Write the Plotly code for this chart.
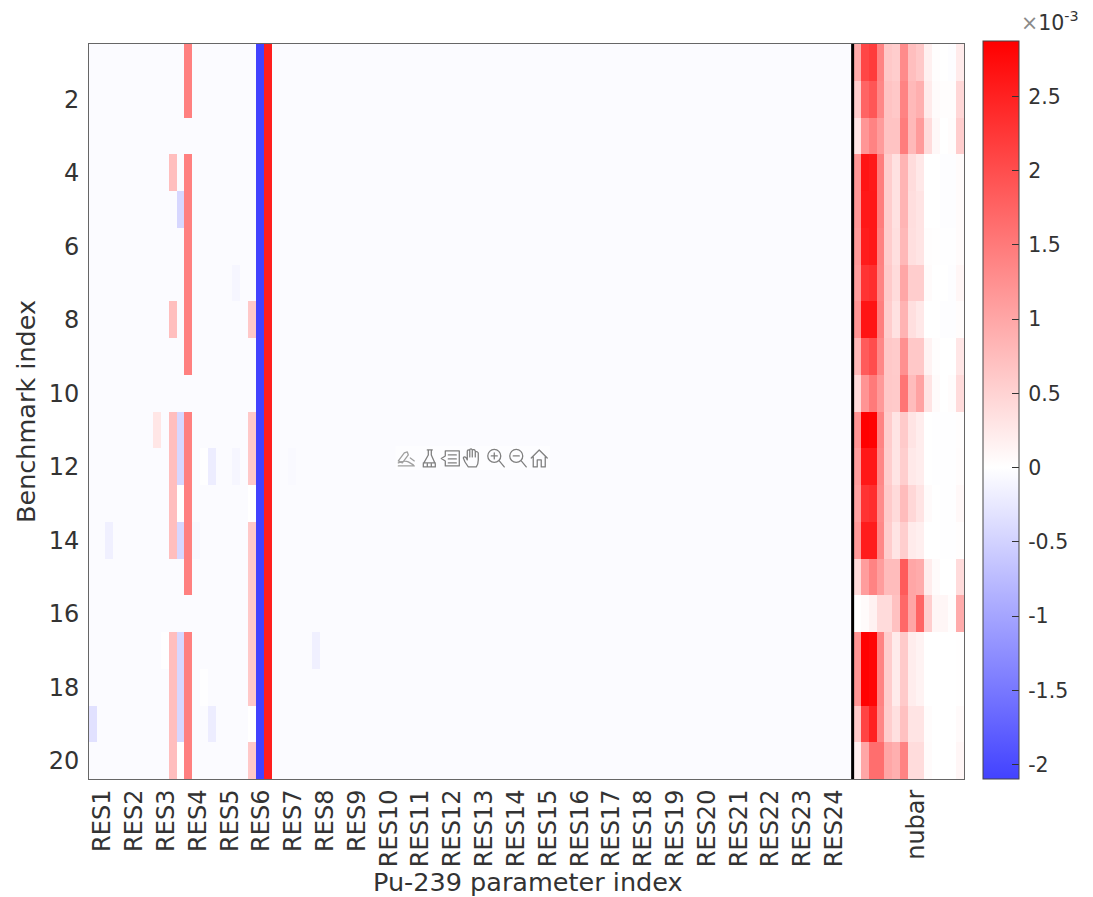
import base64
import plotly.graph_objects as go

# All values are in units of 1e-3
n_rows = 20
n_res = 96
background = -0.045

benchmarks = list(range(1, 21))
res_labels = ["RES%d" % i for i in range(1, 25)]
res_ticks = [2, 6, 10, 14, 18, 22, 26, 30, 34, 38, 42, 46, 50, 54, 58, 62, 66, 70, 74, 78, 82, 86, 90, 94]
nubar_tick = 104.3
y_ticks = [2, 4, 6, 8, 10, 12, 14, 16, 18, 20]
cbar_ticks = [-2, -1.5, -1, -0.5, 0, 0.5, 1, 1.5, 2, 2.5]
cbar_labels = ["-2", "-1.5", "-1", "-0.5", "0", "0.5", "1", "1.5", "2", "2.5"]

b = background
res_01 = [b, b, b, b, b, b, b, b, b, b, b, b, b, b, b, b, b, b, -0.33, b]
res_03 = [b, b, b, b, b, b, b, b, b, b, b, b, b, -0.17, b, b, b, b, b, b]
res_09 = [b, b, b, b, b, b, b, b, b, b, 0.28, b, b, b, b, b, b, b, b, b]
res_10 = [b, b, b, b, b, b, b, b, b, b, b, b, b, b, b, b, -0.015, b, b, b]
res_11 = [b, b, b, 0.73, b, b, b, 0.73, b, b, 0.73, 0.73, 0.73, 0.73, b, b, 0.73, 0.73, 0.73, 0.73]
res_12 = [b, b, b, b, -0.45, b, b, b, b, b, -0.45, -0.45, 0.0, -0.45, b, b, -0.45, -0.45, -0.45, 0.0]
res_13 = [1.43, 1.43, b, 1.43, 1.43, 1.43, 1.43, 1.43, 1.43, b, 1.43, 1.43, 1.43, 1.43, 1.43, b, 1.43, 1.43, 1.43, 1.43]
res_14 = [b, b, b, b, b, b, b, b, b, b, b, b, b, -0.08, b, b, b, b, b, b]
res_15 = [b, b, b, b, b, b, b, b, b, b, b, -0.015, b, b, b, b, b, -0.015, b, b]
res_16 = [b, b, b, b, b, b, b, b, b, b, b, -0.2, b, b, b, b, b, b, -0.2, b]
res_19 = [b, b, b, b, b, b, -0.1, b, b, b, b, -0.1, b, b, b, b, b, b, b, b]
res_21 = [b, b, b, b, b, b, b, 0.62, b, b, 0.62, 0.62, 0.0, 0.62, 0.62, 0.62, 0.62, 0.62, 0.0, 0.62]
res_22 = [-2.1] * 20
res_23 = [2.53] * 20
res_26 = [b, b, b, b, b, b, b, b, b, b, b, -0.07, b, b, b, b, b, b, b, b]
res_29 = [b, b, b, b, b, b, b, b, b, b, b, b, b, b, b, b, -0.17, b, b, b]

nubar_r01 = [0.95, 2.08, 2.2, 1.4, 0.62, 0.56, 1.3, 0.73, 0.62, 0.17, 0.02, 0.0, -0.02, 0.22]
nubar_r02 = [0.56, 1.74, 1.9, 1.35, 0.67, 0.62, 1.4, 0.79, 0.9, 0.22, 0.05, 0.02, 0.02, 0.45]
nubar_r03 = [0.28, 1.18, 1.4, 1.12, 0.67, 0.67, 1.46, 0.79, 1.12, 0.39, 0.08, 0.0, 0.03, 0.56]
nubar_r04 = [1.18, 2.64, 2.59, 1.46, 0.56, 0.34, 0.84, 0.39, 0.26, 0.0, 0.0, -0.02, -0.02, 0.05]
nubar_r05 = [1.18, 2.6, 2.6, 1.46, 0.56, 0.34, 0.84, 0.37, 0.3, 0.0, 0.0, -0.02, -0.02, 0.05]
nubar_r06 = [1.15, 2.55, 2.6, 1.42, 0.56, 0.36, 0.8, 0.36, 0.3, 0.02, 0.01, -0.01, -0.01, 0.05]
nubar_r07 = [1.1, 2.3, 2.35, 1.4, 0.6, 0.4, 1.0, 0.56, 0.56, 0.05, 0.0, 0.0, -0.02, 0.1]
nubar_r08 = [1.2, 2.65, 2.65, 1.45, 0.56, 0.34, 0.85, 0.36, 0.26, 0.0, 0.0, -0.02, -0.02, 0.03]
nubar_r09 = [0.8, 1.85, 2.0, 1.35, 0.62, 0.58, 1.25, 0.62, 0.62, 0.14, 0.02, 0.0, 0.0, 0.28]
nubar_r10 = [0.4, 1.2, 1.5, 1.15, 0.62, 0.6, 1.55, 0.75, 1.05, 0.3, 0.05, 0.0, 0.03, 0.4]
nubar_r11 = [1.2, 2.87, 2.85, 1.4, 0.56, 0.3, 0.6, 0.3, 0.2, 0.0, -0.01, -0.01, -0.01, 0.02]
nubar_r12 = [1.1, 2.6, 2.6, 1.35, 0.55, 0.3, 0.55, 0.25, 0.2, 0.0, -0.01, -0.01, -0.01, 0.03]
nubar_r13 = [1.05, 2.3, 2.35, 1.3, 0.6, 0.42, 0.75, 0.45, 0.3, 0.05, 0.0, -0.01, -0.01, 0.08]
nubar_r14 = [1.15, 2.55, 2.55, 1.35, 0.56, 0.3, 0.55, 0.22, 0.18, 0.0, 0.0, -0.01, -0.01, 0.02]
nubar_r15 = [0.4, 1.1, 1.4, 1.1, 0.75, 0.75, 1.85, 1.0, 0.95, 0.2, 0.05, 0.0, 0.0, 0.4]
nubar_r16 = [0.0, 0.05, 0.15, 0.4, 0.4, 0.7, 1.7, 1.0, 1.75, 0.55, 0.1, 0.1, 0.02, 0.95]
nubar_r17 = [1.2, 2.85, 2.8, 1.4, 0.56, 0.22, 0.6, 0.2, 0.14, 0.0, 0.0, 0.0, 0.0, 0.01]
nubar_r18 = [1.2, 2.85, 2.8, 1.4, 0.56, 0.22, 0.6, 0.2, 0.14, 0.0, 0.0, 0.0, 0.0, 0.01]
nubar_r19 = [0.6, 2.1, 2.5, 1.35, 0.55, 0.35, 0.7, 0.3, 0.3, 0.03, 0.0, 0.0, 0.0, 0.06]
nubar_r20 = [0.17, 1.0, 1.63, 1.63, 1.0, 0.9, 1.4, 0.39, 0.39, 0.05, 0.0, 0.0, 0.0, 0.1]

res_columns = {1: res_01, 3: res_03, 9: res_09, 10: res_10, 11: res_11, 12: res_12, 13: res_13,
               14: res_14, 15: res_15, 16: res_16, 19: res_19, 21: res_21, 22: res_22, 23: res_23,
               26: res_26, 29: res_29}
nubar_rows = [nubar_r01, nubar_r02, nubar_r03, nubar_r04, nubar_r05, nubar_r06, nubar_r07,
              nubar_r08, nubar_r09, nubar_r10, nubar_r11, nubar_r12, nubar_r13, nubar_r14,
              nubar_r15, nubar_r16, nubar_r17, nubar_r18, nubar_r19, nubar_r20]

z = []
for r in range(n_rows):
    row = [res_columns[c][r] if c in res_columns else background for c in range(1, n_res + 1)]
    z.append(row + nubar_rows[r])
params = list(range(1, n_res + len(nubar_r01) + 1))

zmin, zmax = -2.1, 2.87
W, H = 1093, 897
L, R, T, B = 88.5, 964.0, 43.5, 779.5
PW, PH = R - L, B - T
TXT = "#333333"
FONT = "DejaVu Sans"
LABEL_NUDGE = 0.2


def px(x):
    return (x - L) / PW


def py(y):
    return (B - y) / PH


fig = go.Figure(go.Heatmap(
    x=params, y=benchmarks, z=z, zmin=zmin, zmax=zmax,
    colorscale=[[0, "rgb(66,66,255)"], [-zmin / (zmax - zmin), "rgb(255,255,255)"], [1, "rgb(255,0,0)"]],
    colorbar=dict(
        x=px(983), xanchor="left", xpad=0, y=py(780), yanchor="bottom", ypad=0,
        len=739 / PH, lenmode="fraction", thickness=36, thicknessmode="pixels",
        tickmode="array", tickvals=cbar_ticks, ticktext=["\u2009" + t for t in cbar_labels],
        ticks="inside", ticklen=7, tickwidth=1, tickcolor="#333333",
        tickfont=dict(family=FONT, size=20.5, color=TXT),
        outlinecolor="#444444", outlinewidth=1,
    ),
))

ax_line = dict(showline=True, linecolor="#666666", linewidth=1, mirror=True, showgrid=False, zeroline=False)
fig.update_layout(
    width=W, height=H, autosize=False, margin=dict(l=L, r=W - R, t=T, b=H - B, pad=0),
    paper_bgcolor="white", plot_bgcolor="white", showlegend=False,
    font=dict(family=FONT, color=TXT),
    xaxis=dict(range=[0.5, 110.5], tickmode="array",
               tickvals=[t + LABEL_NUDGE for t in res_ticks] + [nubar_tick + LABEL_NUDGE],
               ticktext=res_labels + ["nubar"], tickangle=-90,
               ticks="", tickfont=dict(family=FONT, size=24, color=TXT),
               **ax_line),
    yaxis=dict(range=[20.5, 0.5], tickmode="array",
               tickvals=y_ticks, ticks="outside", ticklen=4, tickcolor="rgba(0,0,0,0)",
               tickfont=dict(family=FONT, size=24, color=TXT),
               title=dict(text="Benchmark index", standoff=5,
                          font=dict(family=FONT, size=25.5, color=TXT)),
               **ax_line),
    shapes=[dict(type="line", xref="x", yref="y", x0=96.5, x1=96.5, y0=0.5, y1=20.5,
                 line=dict(color="black", width=3))],
    annotations=[
        dict(xref="paper", yref="paper", x=px(528), y=py(883), text="Pu-239 parameter index",
             showarrow=False, xanchor="center", yanchor="middle",
             font=dict(family=FONT, size=25.5, color=TXT)),
        dict(xref="paper", yref="paper", x=px(1019), y=py(21),
             text="<span style='color:#8a8a8a'>×</span>10<sup>-3</sup>", showarrow=False,
             xanchor="left", yanchor="middle", font=dict(family=FONT, size=20.5, color=TXT)),
    ],
)

# Floating axes toolbar visible in the reference (edit, brush, legend, pan, zoom in, zoom out, home)
icons = """<svg xmlns='http://www.w3.org/2000/svg' width='155' height='24' viewBox='0 0 155 24'>
<rect width='155' height='24' fill='white' fill-opacity='0.6'/>
<g fill='none' stroke='#808080' stroke-width='1.3' stroke-linecap='round' stroke-linejoin='round'>
<path d='M3 15 L9 7 L12 6 L13 9 L7 17 Z M3 17 Q9 14 13 16 L18 19 M15 12 L19 15 M3 20 H19' stroke='#a0a0a0'/>
<path d='M32 4 H37 M33 4 V9 L28 18 V21 H40 V18 L36 9 V4 M28 17 H40 M32 21 V18 M36 21 V18'/>
<path d='M50 5 H64 V20 H50 V15 L46 12.5 L50 10 Z M53 9 H61 M53 13 H61 M53 17 H61'/>
<path d='M73 21 Q69 16 68 12 Q69 10 71 12 L72 14 V5 Q73 3 74.5 5 V11 V3.5 Q76 2 77 4 V11 V4 Q79 3 80 5 V11 V6 Q82 5 83 7 V14 Q83 18 81 21 Z'/>
<circle cx='99' cy='10' r='6.5'/><path d='M104 15 L109 21 M96 10 H102 M99 7 V13'/>
<circle cx='121' cy='10' r='6.5'/><path d='M126 15 L131 21 M118 10 H124'/>
<path d='M136 12 L144 4 L152 12 M138 11 V21 H142 V14 H146 V21 H150 V11'/>
</g></svg>"""
fig.add_layout_image(dict(
    source="data:image/svg+xml;base64," + base64.b64encode(icons.encode()).decode(),
    xref="paper", yref="paper", x=px(395), y=py(446), sizex=155 / PW, sizey=24 / PH,
    xanchor="left", yanchor="top", sizing="stretch", layer="above",
))

fig.write_html("out.html", config={"displayModeBar": False},
               post_script="document.body.style.margin='0';document.body.style.overflow='hidden';")
